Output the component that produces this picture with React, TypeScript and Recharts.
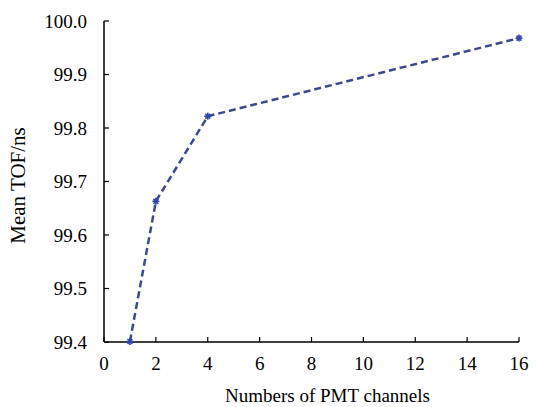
import React from 'react';
import {
  LineChart,
  Line,
  XAxis,
  YAxis,
  Label
} from 'recharts';

// PMT channel count vs. mean time of flight
const channels = [1, 2, 4, 16];
const meanTof = [99.401, 99.663, 99.822, 99.968];

const xTicks = [0, 2, 4, 6, 8, 10, 12, 14, 16];
const yTicks = [99.4, 99.5, 99.6, 99.7, 99.8, 99.9, 100.0];

const data = channels.map((c, i) => ({ channels: c, tof: meanTof[i] }));

const LINE_COLOR = '#3b4a8f';
const FONT = 'Liberation Serif, serif';

const StarDot = (props: any) => {
  const { cx, cy } = props;
  if (cx == null || cy == null) return null;
  const r = 3.5;
  return (
    <g stroke="#2f46a8" strokeWidth={1.6}>
      <line x1={cx - r} y1={cy} x2={cx + r} y2={cy} />
      <line x1={cx} y1={cy - r} x2={cx} y2={cy + r} />
      <line x1={cx - r * 0.7} y1={cy - r * 0.7} x2={cx + r * 0.7} y2={cy + r * 0.7} />
      <line x1={cx - r * 0.7} y1={cy + r * 0.7} x2={cx + r * 0.7} y2={cy - r * 0.7} />
    </g>
  );
};

// rotated y-axis title, placed a little below the plot centre like the original
const YTitle = (props: any) => {
  const { viewBox } = props;
  const x = viewBox.x - 26;
  const y = viewBox.y + viewBox.height / 2 + 4;
  return (
    <text
      x={x}
      y={y}
      transform={`rotate(-90, ${x}, ${y})`}
      textAnchor="middle"
      dominantBaseline="central"
      fill="#000"
      fontSize={21}
      fontFamily={FONT}
    >
      Mean TOF/ns
    </text>
  );
};

const tickStyle = { fill: '#000', fontSize: 19, fontFamily: FONT };

const App = () => (
  <div style={{ position: 'absolute', left: 0, top: 0, background: '#fff', fontFamily: FONT }}>
    <LineChart
      width={539}
      height={407}
      data={data}
      margin={{ top: 21, right: 20, left: 44, bottom: 25 }}
      style={{ fontFamily: FONT }}
    >
      <XAxis
        dataKey="channels"
        type="number"
        domain={[0, 16]}
        ticks={xTicks}
        tick={tickStyle}
        tickSize={-5}
        tickMargin={20}
        height={40}
        axisLine={{ stroke: '#000', strokeWidth: 1.5 }}
        tickLine={{ stroke: '#000', strokeWidth: 1.2 }}
      >
        <Label
          value="Numbers of PMT channels"
          position="insideBottom"
          offset={-20}
          dx={16}
          fontFamily={FONT}
          style={{ fill: '#000', fontSize: 19, fontFamily: FONT }}
        />
      </XAxis>
      <XAxis
        xAxisId="top"
        orientation="top"
        height={0}
        tick={false}
        tickLine={false}
        axisLine={{ stroke: '#000', strokeWidth: 1.5 }}
      />
      <YAxis
        type="number"
        domain={[99.4, 100.0]}
        ticks={yTicks}
        tick={tickStyle}
        tickFormatter={(v: number) => v.toFixed(1)}
        tickSize={-5}
        tickMargin={22}
        width={60}
        axisLine={{ stroke: '#000', strokeWidth: 1.5 }}
        tickLine={{ stroke: '#000', strokeWidth: 1.2 }}
      >
        <Label content={<YTitle />} />
      </YAxis>
      <YAxis
        yAxisId="right"
        orientation="right"
        width={0}
        tick={false}
        tickLine={false}
        axisLine={{ stroke: '#000', strokeWidth: 1.5 }}
      />
      <Line
        type="linear"
        dataKey="tof"
        stroke={LINE_COLOR}
        strokeWidth={2.5}
        strokeDasharray="7 4"
        dot={<StarDot />}
        activeDot={false}
        isAnimationActive={false}
      />
    </LineChart>
  </div>
);

export default App;
